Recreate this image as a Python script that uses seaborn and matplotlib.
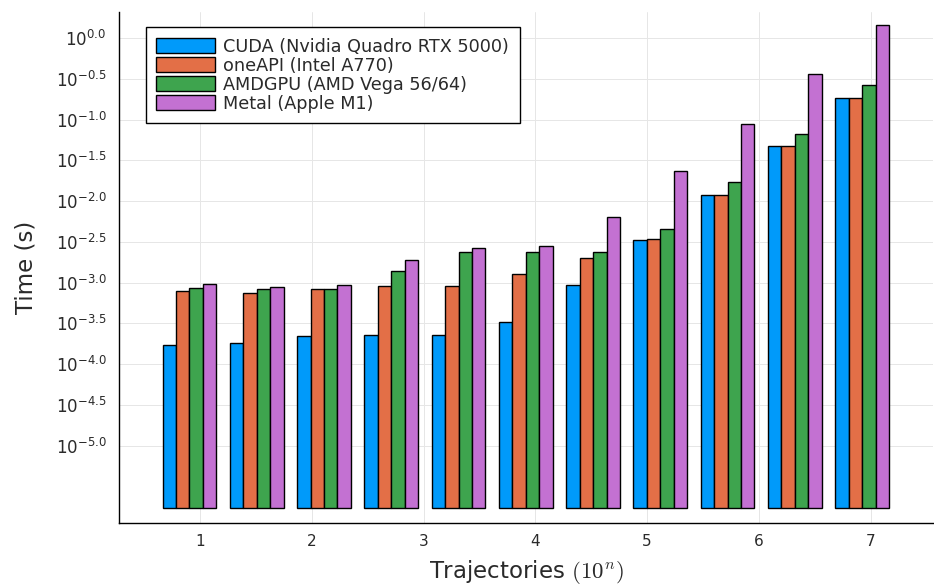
import numpy as np
import pandas as pd
import matplotlib
matplotlib.use("Agg")
import matplotlib.pyplot as plt
from matplotlib.patches import Patch
import seaborn as sns

# Data (times in seconds)
trajectories = [8, 32, 128, 512, 2048, 8192, 32768, 131072, 524288, 2097152, 8388608]
backends = ["CUDA (Nvidia Quadro RTX 5000)", "oneAPI (Intel A770)",
            "AMDGPU (AMD Vega 56/64)", "Metal (Apple M1)"]
cuda = [1.70e-4, 1.78e-4, 2.19e-4, 2.24e-4, 2.24e-4, 3.31e-4, 9.3e-4, 3.31e-3, 0.0120, 0.0468, 0.182]
oneapi = [7.94e-4, 7.41e-4, 8.32e-4, 9.12e-4, 9.12e-4, 1.26e-3, 2.0e-3, 3.47e-3, 0.0120, 0.0468, 0.182]
amdgpu = [8.51e-4, 8.32e-4, 8.32e-4, 1.38e-3, 2.34e-3, 2.34e-3, 2.40e-3, 4.57e-3, 0.0170, 0.0661, 0.269]
metal = [9.55e-4, 8.91e-4, 9.33e-4, 1.91e-3, 2.69e-3, 2.82e-3, 6.31e-3, 0.0234, 0.0891, 0.363, 1.445]
colors = ["#009AFA", "#E36F47", "#3EA44E", "#C371D2"]

ytick_exp = [0.0, -0.5, -1.0, -1.5, -2.0, -2.5, -3.0, -3.5, -4.0, -4.5, -5.0]
ytick_labels = [r"$10^{%.1f}$" % e for e in ytick_exp]
xticks = [1, 2, 3, 4, 5, 6, 7]

# Long-form table
df = pd.DataFrame({"n": np.log10(trajectories)})
for name, vals in zip(backends, [cuda, oneapi, amdgpu, metal]):
    df[name] = vals
df = df.melt(id_vars="n", var_name="backend", value_name="time")

sns.set_style("white")
plt.rcParams["font.family"] = ["DejaVu Sans"]
plt.rcParams["mathtext.fontset"] = "dejavusans"

fig, ax = plt.subplots(figsize=(9.34, 5.84), dpi=100)
fig.subplots_adjust(left=0.1274, right=0.999, bottom=0.1045, top=0.98)

sns.barplot(data=df, x="n", y="time", hue="backend", native_scale=True,
            palette=colors, saturation=1, edgecolor="black", linewidth=1.0,
            bottom=10 ** -5.765, legend=False, ax=ax)

ax.set_yscale("log")
ax.set_ylim(10 ** -5.95, 10 ** 0.324)
ax.set_xlim(0.272, 7.559)
ax.set_yticks([10 ** e for e in ytick_exp])
ax.set_yticklabels(ytick_labels)
ax.set_xticks(xticks)
ax.set_xticklabels([str(t) for t in xticks])
ax.minorticks_off()

# Grid and spines
ax.grid(True, color="#e6e6e6", linewidth=0.7)
ax.set_axisbelow(True)
for side in ["top", "right"]:
    ax.spines[side].set_visible(False)
for side in ["left", "bottom"]:
    ax.spines[side].set_color("black")
    ax.spines[side].set_linewidth(1.0)
ax.tick_params(axis="y", direction="in", length=6, width=1, pad=9, labelsize=12, colors="#2a2a2a")
ax.tick_params(axis="x", direction="in", length=4, width=1, pad=8, labelsize=11, colors="#2a2a2a")

# Labels
ax.set_ylabel("Time (s)", fontsize=16.5, color="#2a2a2a")
ax.yaxis.set_label_coords(-0.1, 0.5)
ax.set_xlabel(r"Trajectories $(10^n)$", fontsize=16.5, color="#2a2a2a", math_fontfamily="cm")
ax.xaxis.set_label_coords(0.5, -0.068)

# Legend
handles = [Patch(facecolor=c, edgecolor="black", linewidth=1.0) for c in colors]
leg = ax.legend(handles, backends, loc="upper left", bbox_to_anchor=(0.033, 0.9695),
                borderaxespad=0, fontsize=12.7, frameon=True, fancybox=False,
                edgecolor="black", framealpha=1, handlelength=3.3, handleheight=0.9,
                labelspacing=0.05, handletextpad=0.5, borderpad=0.6)
leg.get_frame().set_linewidth(1.0)
for t in leg.get_texts():
    t.set_color("#2a2a2a")

fig.savefig("out.png", dpi=100)
